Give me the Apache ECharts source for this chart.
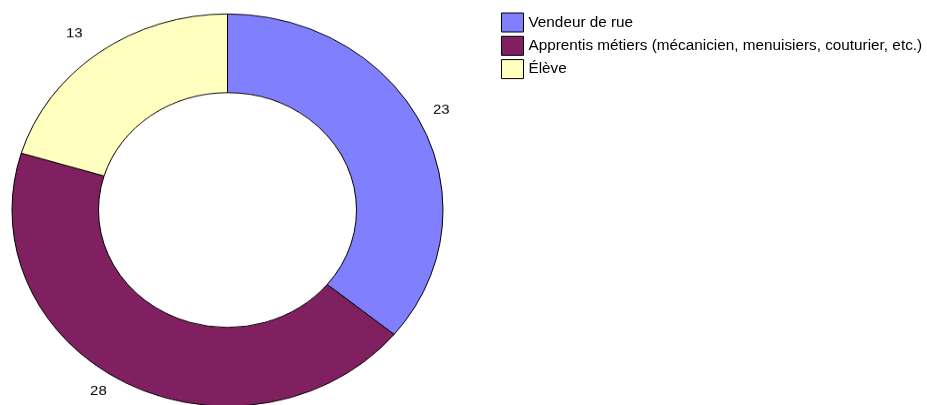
<!DOCTYPE html>
<html>
<head>
<meta charset="utf-8">
<script src="https://cdn.jsdelivr.net/npm/echarts@6/dist/echarts.min.js"></script>
<style>
  html, body { margin: 0; padding: 0; background: #ffffff; }
  #wrap { position: relative; width: 927px; height: 405px; overflow: hidden; }
  #pie { position: absolute; left: 0; top: 0; width: 927px; height: 445px; transform: scaleY(0.91); transform-origin: 0 0; }
  #leg { position: absolute; left: 0; top: 0; width: 927px; height: 405px; }
</style>
</head>
<body>
<div id="wrap">
  <div id="pie"></div>
  <div id="leg"></div>
</div>
<script>
const categories = ['Vendeur de rue', 'Apprentis métiers (mécanicien, menuisiers, couturier, etc.)', 'Élève'];
const values = [23, 28, 13];

const palette = ['#8080ff', '#802060', '#ffffc0'];
// per-label nudges (right padding shifts left; spacer line height shifts up)
const labelPadRight = [10, 30, 18];
const labelLift = [13, 28, 0];
const FONT = '"Liberation Sans", Arial, sans-serif';

const pieData = categories.map((c, i) => ({ name: c, value: values[i], itemStyle: { color: palette[i] } }));
const labelData = categories.map((c, i) => ({
  name: c,
  value: values[i],
  label: {
    padding: [0, labelPadRight[i], 0, 0],
    formatter: labelLift[i] > 0 ? '{v|{c}}\n{s| }' : '{v|{c}}',
    rich: {
      v: { fontSize: 15, fontFamily: FONT, color: '#000000', lineHeight: 18 },
      s: { fontSize: 1, height: labelLift[i], lineHeight: labelLift[i] }
    }
  }
}));

const pieChart = echarts.init(document.getElementById('pie'), null, { renderer: 'canvas' });
pieChart.setOption({
  animation: false,
  series: [
    {
      type: 'pie',
      center: [227.5, 230.8],
      radius: [129, 215.5],
      startAngle: 90,
      clockwise: true,
      silent: true,
      label: { show: false },
      labelLine: { show: false },
      emphasis: { disabled: true },
      itemStyle: { borderColor: '#000000', borderWidth: 1 },
      data: pieData
    },
    {
      type: 'pie',
      center: [227.5, 230.8],
      radius: [232, 246],
      startAngle: 90,
      clockwise: true,
      silent: true,
      emphasis: { disabled: true },
      itemStyle: { color: 'rgba(0,0,0,0)', borderWidth: 0 },
      label: {
        show: true,
        position: 'inside',
        color: '#000000',
        fontSize: 15,
        fontFamily: FONT
      },
      labelLine: { show: false },
      data: labelData
    }
  ]
});

const legChart = echarts.init(document.getElementById('leg'), null, { renderer: 'canvas' });
legChart.setOption({
  animation: false,
  legend: {
    orient: 'vertical',
    left: 501,
    top: 12.5,
    padding: 0,
    itemWidth: 22,
    itemHeight: 19,
    itemGap: 3.3,
    icon: 'rect',
    selectedMode: false,
    itemStyle: { borderColor: '#000000', borderWidth: 1 },
    textStyle: { color: '#000000', fontSize: 15.3, fontFamily: FONT },
    data: categories
  },
  series: [
    {
      type: 'pie',
      center: [-2000, -2000],
      radius: 1,
      silent: true,
      label: { show: false },
      labelLine: { show: false },
      data: pieData
    }
  ]
});
</script>
</body>
</html>
